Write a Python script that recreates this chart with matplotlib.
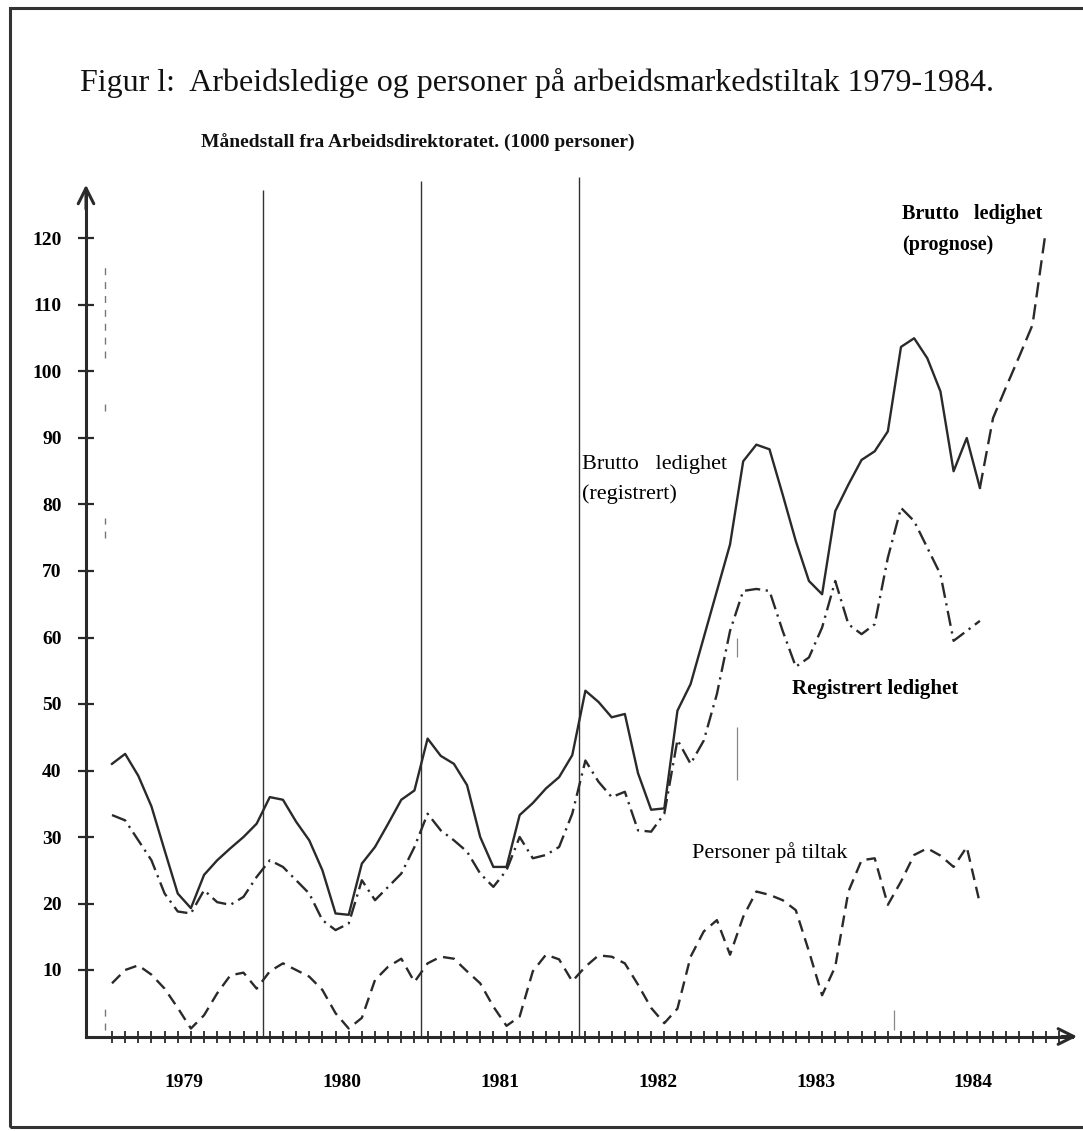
import matplotlib
matplotlib.use("Agg")
import matplotlib.pyplot as plt
import numpy as np

plt.rcParams['lines.scale_dashes'] = False
plt.rcParams['font.family'] = ['Liberation Serif', 'DejaVu Serif']

# ---------------- data (1000 persons, monthly, Jan 1979 = month 0) ----------------
brutto_registrert = [41, 42.5, 39.2, 34.6, 28, 21.5, 19.3, 24.3, 26.5, 28.3, 30, 32,
                     36, 35.6, 32.3, 29.5, 25, 18.5, 18.3, 26, 28.5, 32, 35.6, 37,
                     44.8, 42.2, 41, 37.8, 30, 25.5, 25.5, 33.3, 35.1, 37.3, 39, 42.3,
                     52, 50.3, 48, 48.5, 39.6, 34.1, 34.3, 49, 53, 60, 67, 74,
                     86.5, 89, 88.3, 81.5, 74.5, 68.5, 66.5, 79, 83, 86.7, 88, 91,
                     103.7, 105, 102, 97, 85, 90, 82.5]
registrert = [33.3, 32.5, 29.5, 26.5, 21.5, 18.8, 18.5, 22, 20.2, 19.8, 21, 24,
              26.5, 25.5, 23.5, 21.5, 17.5, 16, 17, 23.5, 20.5, 22.5, 24.5, 28.5,
              33.5, 31, 29.5, 27.8, 24.5, 22.5, 25, 30, 26.8, 27.3, 28.5, 33.5,
              41.5, 38.3, 36, 36.8, 31, 30.8, 33.5, 44.6, 41, 44.5, 51.5, 61,
              67, 67.3, 67, 61, 55.6, 57, 61.5, 68.5, 62, 60.5, 62, 72,
              79.5, 77.5, 73.5, 69.5, 59.5, 61, 62.5]
tiltak = [8, 10, 10.7, 9.3, 7.2, 4.3, 1.2, 3.2, 6.5, 9.2, 9.6, 7.2,
          9.8, 11, 10, 9, 7, 3.5, 1.2, 2.8, 8.5, 10.5, 11.7, 8.2,
          11, 12, 11.7, 9.8, 8, 4.5, 1.6, 3, 9.8, 12.3, 11.6, 8.3,
          10.5, 12.2, 12, 11, 7.8, 4.3, 2, 4.2, 12, 15.8, 17.5, 12.3,
          18, 21.8, 21.3, 20.5, 19, 12.8, 6.2, 10.5, 21.8, 26.5, 26.8, 19.8,
          23.3, 27.3, 28.3, 27.2, 25.5, 28.5, 20]
prognose_months = [66, 67, 68, 69, 70, 71]
prognose = [82.5, 93, 97.7, 102.3, 107, 121]

years = ['1979', '1980', '1981', '1982', '1983', '1984']
yticks = [10, 20, 30, 40, 50, 60, 70, 80, 90, 100, 110, 120]
divider_tops = [127.3, 128.6, 129.2]

months = np.arange(len(brutto_registrert))

# ---------------- layout ----------------
W, H = 1083, 1131
fig = plt.figure(figsize=(W / 100, H / 100), dpi=100)
fig.patch.set_facecolor('white')

def fx(px):
    return px / W

def fy(py):
    return 1 - py / H

L, R, T, B = 60, 1080, 170, 1045
x0, dx = 112, 13.15
y0, dy = 1036.5, 6.65
ax = fig.add_axes([fx(L), fy(B), (R - L) / W, (B - T) / H])
ax.set_xlim((L - x0) / dx, (R - x0) / dx)
ax.set_ylim((y0 - B) / dy, (y0 - T) / dy)
ax.patch.set_alpha(0)

yaxis_x = (86 - x0) / dx
xaxis_end = (1072 - x0) / dx
line_col = '#2a2a2a'

for s in ['top', 'right']:
    ax.spines[s].set_visible(False)
ax.spines['left'].set_position(('data', yaxis_x))
ax.spines['left'].set_bounds(0, 127)
ax.spines['bottom'].set_position(('data', 0))
ax.spines['bottom'].set_bounds(yaxis_x, xaxis_end)
for s in ['left', 'bottom']:
    ax.spines[s].set_linewidth(2.2)
    ax.spines[s].set_color(line_col)

# arrow heads
ax.annotate('', xy=(yaxis_x, 128.5), xytext=(yaxis_x, 124),
            arrowprops=dict(arrowstyle='->', lw=2.2, color=line_col, mutation_scale=28))
ax.annotate('', xy=(xaxis_end + 0.6, 0), xytext=(xaxis_end - 1, 0),
            arrowprops=dict(arrowstyle='->', lw=2.2, color=line_col, mutation_scale=28))

ax.set_yticks(yticks)
ax.set_yticklabels([str(v) for v in yticks], fontsize=14, fontweight='bold')
ax.tick_params(axis='y', direction='inout', length=11, width=1.6, color=line_col, pad=12)
ax.set_xticks(np.arange(0, 73))
ax.set_xticklabels([])
ax.tick_params(axis='x', direction='inout', length=8, width=1.3, color=line_col)

# year labels
for k, yr in enumerate(years):
    ax.text(5.5 + 12 * k, -6.9, yr, ha='center', va='center', fontsize=14,
            fontweight='bold')

# year divider lines
ax.vlines([11.5, 23.5, 35.5], 0, divider_tops, color='#333333', lw=1.0)
# faint marks
ax.vlines([-0.5, -0.5, -0.5, -0.5], [1, 75, 94, 102], [5, 78, 96, 116], color='#777777',
          lw=1.0, linestyles=(0, (5, 5)))
ax.vlines([47.5, 47.5, 59.5], [38.5, 57, 1], [46.5, 60, 4], color='#888888', lw=0.9)

# series
ax.plot(months, brutto_registrert, color=line_col, lw=1.7, solid_joinstyle='round')
ax.plot(months, registrert, color=line_col, lw=1.7, dashes=[11, 4, 1.6, 4])
ax.plot(months, tiltak, color=line_col, lw=1.7, dashes=[8.5, 5])
ax.plot(prognose_months, prognose, color=line_col, lw=1.7, dashes=[11, 5])

# ---------------- texts ----------------
fig.text(fx(80), fy(83), 'Figur l:  Arbeidsledige og personer på arbeidsmarkedstiltak 1979-1984.',
         fontsize=23, ha='left', va='center', color='#111111')
fig.text(fx(201), fy(143), 'Månedstall fra Arbeidsdirektoratet. (1000 personer)',
         fontsize=14, fontweight='bold', ha='left', va='center', color='#111111')

fig.text(fx(902), fy(214), 'Brutto   ledighet', fontsize=14.5, fontweight='bold',
         ha='left', va='center')
fig.text(fx(902), fy(245), '(prognose)', fontsize=14.5, fontweight='bold',
         ha='left', va='center')
fig.text(fx(582), fy(464), 'Brutto   ledighet', fontsize=16,
         ha='left', va='center')
fig.text(fx(582), fy(494), '(registrert)', fontsize=16,
         ha='left', va='center')
fig.text(fx(792), fy(689), 'Registrert ledighet', fontsize=15, fontweight='bold',
         ha='left', va='center')
fig.text(fx(692), fy(853), 'Personer på tiltak', fontsize=16,
         ha='left', va='center')

# page frame
frame = plt.Rectangle((fx(10), fy(1127)), fx(1100) - fx(10), fy(8) - fy(1127),
                      transform=fig.transFigure, fill=False, lw=2.2,
                      edgecolor='#333333', clip_on=False)
fig.add_artist(frame)

fig.savefig('out.png', dpi=100, facecolor='white')
